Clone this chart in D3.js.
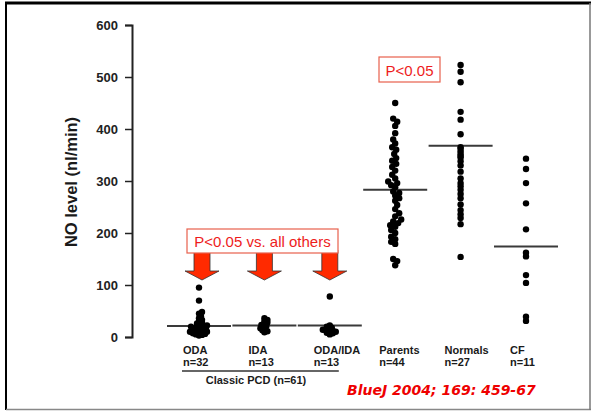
<!DOCTYPE html>
<html>
<head>
<meta charset="utf-8">
<script src="https://cdn.jsdelivr.net/npm/d3@7/dist/d3.min.js"></script>
<style>
  body { margin: 0; background: #fff; }
  svg { display: block; }
</style>
</head>
<body>
<div id="chart"></div>
<script>
// groups, sample sizes and NO values (nl/min)
const groups = ["ODA", "IDA", "ODA/IDA", "Parents", "Normals", "CF"];
const counts = ["n=32", "n=13", "n=13", "n=44", "n=27", "n=11"];
const means = [21, 22, 22, 283, 368, 174];

const odaValues = [95, 70, 48, 45, 40, 36, 33, 30, 28, 26, 24, 22, 21, 20, 19, 18,
  17, 16, 15, 14, 13, 12, 11, 10, 10, 9, 8, 7, 6, 5, 4, 3];
const idaValues = [36, 33, 30, 28, 25, 23, 21, 19, 17, 15, 13, 11, 9];
const odaIdaValues = [78, 22, 20, 18, 16, 14, 13, 12, 11, 10, 8, 7, 5];
const parentValues = [450, 420, 414, 406, 392, 380, 372, 365, 360, 352, 344, 339,
  333, 327, 320, 312, 305, 299, 296, 292, 288, 280, 277, 272, 267, 262, 254, 246,
  238, 232, 226, 222, 219, 215, 212, 206, 200, 193, 188, 183, 179, 150, 146, 138];
const normalValues = [523, 510, 490, 433, 418, 390, 362, 357, 352, 345, 338, 330,
  318, 305, 296, 290, 283, 275, 267, 255, 244, 236, 229, 217, 365, 348, 154];
const cfValues = [343, 323, 296, 257, 207, 162, 155, 119, 104, 39, 31];
const groupValues = [odaValues, idaValues, odaIdaValues, parentValues, normalValues, cfValues];

const yTicks = [0, 100, 200, 300, 400, 500, 600];

// min dot spacing (px) for the jittered groups; others are a plain column
const swarmSpacing = { "ODA": 2.6, "IDA": 2.6, "ODA/IDA": 2.6, "Parents": 4.4 };

const width = 592, height = 411;

const svg = d3.select("#chart").append("svg")
    .attr("width", width)
    .attr("height", height);

// slide frame
svg.append("line").attr("x1", 5).attr("x2", 591).attr("y1", 3).attr("y2", 3)
    .attr("stroke", "#000").attr("stroke-width", 3);
svg.append("line").attr("x1", 6).attr("x2", 6).attr("y1", 3).attr("y2", 410)
    .attr("stroke", "#000").attr("stroke-width", 2);
svg.append("line").attr("x1", 6).attr("x2", 591).attr("y1", 409.5).attr("y2", 409.5)
    .attr("stroke", "#888").attr("stroke-width", 1.5);
svg.append("line").attr("x1", 590).attr("x2", 590).attr("y1", 3).attr("y2", 410)
    .attr("stroke", "#777").attr("stroke-width", 1.5);

const y = d3.scaleLinear().domain([0, 600]).range([337, 25]);
const x = d3.scalePoint().domain(groups).range([199, 526]);

// y axis
const yAxis = svg.append("g")
    .attr("transform", "translate(132,0)")
    .call(d3.axisLeft(y).tickValues(yTicks).tickSize(7).tickPadding(7));
yAxis.select(".domain").attr("stroke", "#222").attr("stroke-width", 2);
yAxis.selectAll(".tick line").attr("stroke", "#222").attr("stroke-width", 1.5);
yAxis.selectAll(".tick text")
    .attr("fill", "#222")
    .style("font", "bold 13px 'Liberation Sans', Arial, sans-serif");

svg.append("text")
    .attr("transform", "translate(77,182) rotate(-90)")
    .attr("text-anchor", "middle")
    .attr("fill", "#1a1a1a")
    .style("font", "bold 16.5px 'Liberation Sans', Arial, sans-serif")
    .text("NO level (nl/min)");

// simple beeswarm so overlapping dots spread sideways
function swarm(values, cx, minDist) {
  const placed = [];
  return values.slice().sort((a, b) => a - b).map((v, i) => {
    const py = y(v);
    let best = 0;
    for (let k = 0; k < 40; k++) {
      const cands = k === 0 ? [0] : (i % 2 ? [k, -k] : [-k, k]);
      const ok = cands.find(dx => placed.every(p => Math.hypot(p.dx - dx, p.y - py) >= minDist));
      if (ok !== undefined) { best = ok; break; }
    }
    placed.push({ dx: best, y: py });
    return { v: v, x: cx + best, y: py };
  });
}

groups.forEach((g, i) => {
  const cx = x(g);
  const pts = swarmSpacing[g]
      ? swarm(groupValues[i], cx, swarmSpacing[g])
      : groupValues[i].map(v => ({ v: v, x: cx, y: y(v) }));

  svg.append("line")
      .attr("x1", cx - 32).attr("x2", cx + 32)
      .attr("y1", y(means[i])).attr("y2", y(means[i]))
      .attr("stroke", "#3a3a3a").attr("stroke-width", 2);

  svg.append("g").selectAll("circle")
      .data(pts)
      .join("circle")
      .attr("cx", d => d.x)
      .attr("cy", d => d.y)
      .attr("r", 3.2)
      .attr("fill", "#000");

  svg.append("text")
      .attr("x", cx - 16).attr("y", 354)
      .attr("fill", "#1a1a1a")
      .style("font", "bold 11px 'Liberation Sans', Arial, sans-serif")
      .text(g);
  svg.append("text")
      .attr("x", cx - 16).attr("y", 366)
      .attr("fill", "#1a1a1a")
      .style("font", "bold 11px 'Liberation Sans', Arial, sans-serif")
      .text(counts[i]);
});

// Classic PCD bracket
svg.append("line")
    .attr("x1", x("ODA") - 17).attr("x2", x("ODA/IDA") + 9)
    .attr("y1", 371).attr("y2", 371)
    .attr("stroke", "#333").attr("stroke-width", 1.5);
svg.append("text")
    .attr("x", 256).attr("y", 384)
    .attr("text-anchor", "middle")
    .attr("fill", "#1a1a1a")
    .style("font", "bold 11px 'Liberation Sans', Arial, sans-serif")
    .text("Classic PCD (n=61)");

// red arrows for the PCD groups
const arrow = d3.line();
["ODA", "IDA", "ODA/IDA"].forEach(g => {
  const cx = x(g) + (g === "ODA" ? 3 : 0);
  svg.append("path")
      .attr("d", arrow([[cx - 8, 250], [cx + 8, 250], [cx + 8, 271], [cx + 17, 271],
        [cx, 280], [cx - 17, 271], [cx - 8, 271]]) + "Z")
      .attr("fill", "#ff2a00")
      .attr("stroke", "#333")
      .attr("stroke-width", 0.8);
});

function pBox(x0, y0, w, h, label) {
  svg.append("rect")
      .attr("x", x0).attr("y", y0).attr("width", w).attr("height", h)
      .attr("fill", "#fff").attr("stroke", "#e8604c").attr("stroke-width", 1.2);
  svg.append("text")
      .attr("x", x0 + w / 2).attr("y", y0 + h - 6)
      .attr("text-anchor", "middle")
      .attr("fill", "#ee1c1c")
      .style("font", "15px 'Liberation Sans', Arial, sans-serif")
      .text(label);
}
pBox(187, 229, 151, 24, "P<0.05 vs. all others");
pBox(379, 57, 61, 25, "P<0.05");

svg.append("text")
    .attr("x", 347).attr("y", 395)
    .attr("fill", "#ee0000")
    .style("font", "italic bold 14px 'DejaVu Sans', sans-serif")
    .text("BlueJ 2004; 169: 459-67");
</script>
</body>
</html>
